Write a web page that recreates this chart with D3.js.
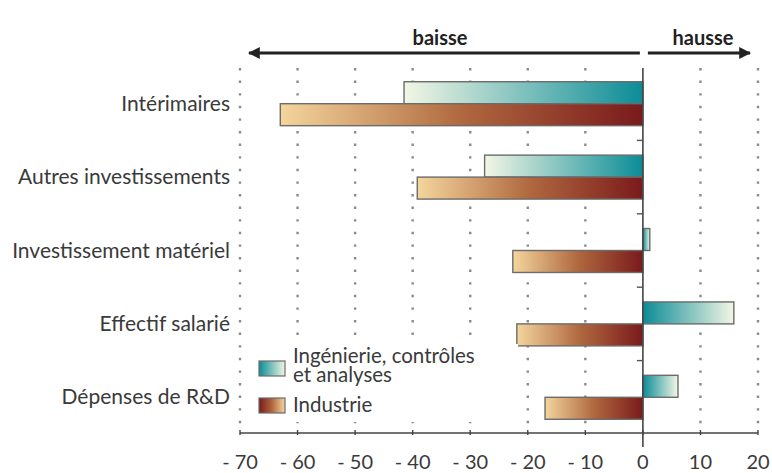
<!DOCTYPE html>
<html>
<head>
<meta charset="utf-8">
<script src="https://cdn.jsdelivr.net/npm/d3@7/dist/d3.min.js"></script>
<style>
  html, body { margin: 0; padding: 0; background: #fff; }
  svg { display: block; }
  text { font-family: Lato, "Open Sans", sans-serif; fill: #3a3a3a; }
</style>
</head>
<body>
<svg id="chart" width="772" height="473"></svg>
<script>
// Variation (en points) par poste de dépense, deux secteurs
const categories = ["Intérimaires", "Autres investissements", "Investissement matériel", "Effectif salarié", "Dépenses de R&D"];
const ingenierie = [-41.5, -27.5, 1.2, 15.8, 6.1];
const industrie = [-63, -39.2, -22.6, -21.9, -17];
const seriesNames = ["Ingénierie, contrôles et analyses", "Industrie"];
const xTicks = [-70, -60, -50, -40, -30, -20, -10, 0, 10, 20];

const svg = d3.select("#chart");
const x = d3.scaleLinear().domain([-70, 20]).range([240, 758]);
const y = d3.scaleBand().domain(categories).range([67, 434]).padding(0);
const inner = d3.scaleBand().domain(["ica", "ind"]).range([0, y.bandwidth()]).paddingOuter(0.67).paddingInner(0);

// Dégradés : couleur foncée côté zéro, claire à l'extrémité
const defs = svg.append("defs");
function grad(id, stops) {
  const g = defs.append("linearGradient").attr("id", id).attr("x1", 0).attr("x2", 1).attr("y1", 0).attr("y2", 0);
  stops.forEach((c, i) => g.append("stop").attr("offset", (i / (stops.length - 1) * 100) + "%").attr("stop-color", c));
}
const icaLight = "#f3f6e4", icaDark = "#0b8c97";
const indLight = "#f4d69d", indMid = "#b0683f", indDark = "#7a1a1c";
grad("ica-neg", [icaLight, icaDark]);
grad("ica-pos", [icaDark, icaLight]);
grad("ind-neg", [indLight, indMid, indDark]);
grad("ind-pos", [indDark, indMid, indLight]);

// Grille pointillée
svg.append("g").selectAll("line")
  .data(xTicks.filter(d => d !== 0))
  .join("line")
  .attr("x1", d => x(d)).attr("x2", d => x(d))
  .attr("y1", 68).attr("y2", 432)
  .attr("stroke", "#8a8a8a").attr("stroke-width", 2.4)
  .attr("stroke-dasharray", "2.4 10.2");

// Barres
const bars = [];
categories.forEach((c, i) => {
  bars.push({ c, k: "ica", v: ingenierie[i] });
  bars.push({ c, k: "ind", v: industrie[i] });
});
svg.append("g").selectAll("rect")
  .data(bars)
  .join("rect")
  .attr("x", d => x(Math.min(0, d.v)))
  .attr("width", d => Math.abs(x(d.v) - x(0)))
  .attr("y", d => y(d.c) + inner(d.k))
  .attr("height", inner.bandwidth())
  .attr("fill", d => `url(#${d.k}-${d.v < 0 ? "neg" : "pos"})`)
  .attr("stroke", "#6b6b6b").attr("stroke-width", 1.4);

// Axe horizontal
const axisY = 433;
svg.append("line").attr("x1", x(-70)).attr("x2", x(20)).attr("y1", axisY).attr("y2", axisY)
  .attr("stroke", "#444").attr("stroke-width", 1.6);
svg.append("g").selectAll("line")
  .data(xTicks)
  .join("line")
  .attr("x1", d => x(d)).attr("x2", d => x(d))
  .attr("y1", axisY - 3).attr("y2", axisY + 2)
  .attr("stroke", "#444").attr("stroke-width", 1.4);
svg.append("g").selectAll("text")
  .data(xTicks)
  .join("text")
  .attr("x", d => x(d))
  .attr("y", 469)
  .attr("text-anchor", "middle")
  .attr("font-size", 20)
  .text(d => d < 0 ? "- " + Math.abs(d) : String(d));

// Axe vertical (zéro) et repères entre catégories
svg.append("line").attr("x1", x(0)).attr("x2", x(0)).attr("y1", 68).attr("y2", 447)
  .attr("stroke", "#444").attr("stroke-width", 1.6);
svg.append("g").selectAll("line")
  .data(categories.slice(1))
  .join("line")
  .attr("x1", x(0) - 6).attr("x2", x(0))
  .attr("y1", d => y(d)).attr("y2", d => y(d))
  .attr("stroke", "#555").attr("stroke-width", 1.4);

// Libellés de catégories
svg.append("g").selectAll("text")
  .data(categories)
  .join("text")
  .attr("x", 230)
  .attr("y", d => y(d) + y.bandwidth() / 2 + 7)
  .attr("text-anchor", "end")
  .attr("font-size", 21)
  .text(d => d);

// Flèches baisse / hausse
svg.append("defs").html(`
  <marker id="arrow" viewBox="0 0 10 10" refX="9" refY="5" markerWidth="4" markerHeight="4" orient="auto-start-reverse">
    <path d="M0,0 L10,5 L0,10 z" fill="#222"/>
  </marker>`);
const arrowY = 53;
svg.append("line").attr("x1", x(0) - 3).attr("x2", 249).attr("y1", arrowY).attr("y2", arrowY)
  .attr("stroke", "#222").attr("stroke-width", 3).attr("marker-end", "url(#arrow)");
svg.append("line").attr("x1", x(0) + 5).attr("x2", 750).attr("y1", arrowY).attr("y2", arrowY)
  .attr("stroke", "#222").attr("stroke-width", 3).attr("marker-end", "url(#arrow)");
svg.append("text").attr("x", 440).attr("y", 45).attr("text-anchor", "middle")
  .attr("font-size", 20).attr("font-weight", "bold").style("fill", "#222").text("baisse");
svg.append("text").attr("x", 703).attr("y", 45).attr("text-anchor", "middle")
  .attr("font-size", 20).attr("font-weight", "bold").style("fill", "#222").text("hausse");

// Légende
const lg = svg.append("g");
lg.append("rect").attr("x", 246).attr("y", 344).attr("width", 272).attr("height", 78).attr("fill", "#fff");
lg.append("rect").attr("x", 259).attr("y", 361).attr("width", 26).attr("height", 15)
  .attr("fill", "url(#ica-pos)").attr("stroke", "#6b6b6b").attr("stroke-width", 1.2);
lg.append("rect").attr("x", 259).attr("y", 398).attr("width", 26).attr("height", 15)
  .attr("fill", "url(#ind-pos)").attr("stroke", "#6b6b6b").attr("stroke-width", 1.2);
const icaLines = ["Ingénierie, contrôles", "et analyses"];
lg.append("text").attr("x", 293).attr("y", 363).attr("font-size", 20.5)
  .selectAll("tspan").data(icaLines).join("tspan")
  .attr("x", 293).attr("dy", (d, i) => i === 0 ? 0 : 19).text(d => d);
lg.append("text").attr("x", 293).attr("y", 412).attr("font-size", 20.5).text(seriesNames[1]);
</script>
</body>
</html>
